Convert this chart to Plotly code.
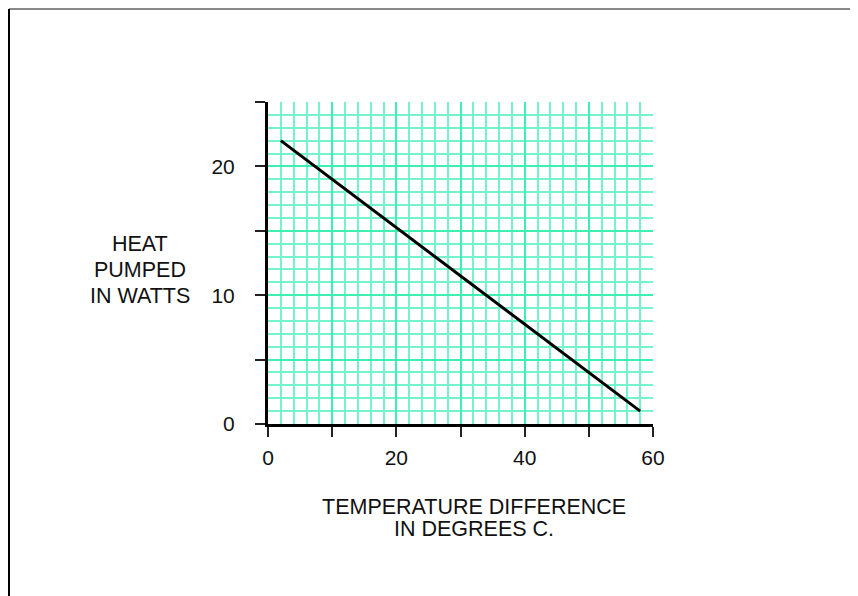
import plotly.graph_objects as go

temp_diff = [2, 58]
heat_watts = [22, 1]

x_tickvals = [0, 10, 20, 30, 40, 50, 60]
x_ticktext = ["0", "", "20", "", "40", "", "60"]
y_tickvals = [0, 5, 10, 15, 20, 25]
y_ticktext = ["0", "", "10", "", "20", ""]

y_title_lines = ["HEAT", "PUMPED", "IN WATTS"]
x_title_lines = ["TEMPERATURE DIFFERENCE", "IN DEGREES C."]

FONT = "Liberation Sans, Arial, sans-serif"
FS = 21.5
OFF = 8  # page body offset
W, H = 858, 596
L, R, T, B = 268 - OFF, 858 - 653 + OFF, 102 - OFF, 596 - 424 + OFF
pw, ph = W - L - R, H - T - B

def px(x):
    # page pixel -> paper fraction
    return (x - OFF - L) / pw

def py(y):
    return (H - B - (y - OFF)) / ph

fig = go.Figure()
fig.add_trace(go.Scatter(x=temp_diff, y=heat_watts, mode="lines",
                         line=dict(color="black", width=3), showlegend=False))

fig.update_xaxes(range=[0, 60], tickvals=x_tickvals, ticktext=x_ticktext,
                 showgrid=True, gridcolor="#3DEFB0", gridwidth=2,
                 minor=dict(dtick=2, showgrid=True, gridcolor="#74F3CC", gridwidth=1.5),
                 showline=True, linecolor="black", linewidth=3, mirror=False,
                 ticks="outside", ticklen=10, tickwidth=2, tickcolor="#222",
                 zeroline=False, ticklabelstandoff=3,
                 tickfont=dict(family=FONT, size=21, color="#111"))
fig.update_yaxes(range=[0, 25], tickvals=y_tickvals, ticktext=y_ticktext,
                 showgrid=True, gridcolor="#3DEFB0", gridwidth=2,
                 minor=dict(dtick=1, showgrid=True, gridcolor="#74F3CC", gridwidth=1.5),
                 showline=True, linecolor="black", linewidth=3, mirror=False,
                 ticks="outside", ticklen=10, tickwidth=2, tickcolor="#222",
                 zeroline=False, ticklabelstandoff=16,
                 tickfont=dict(family=FONT, size=21, color="#111"))

for txt, yc in zip(y_title_lines, [244, 270, 296]):
    fig.add_annotation(text=txt, xref="paper", yref="paper",
                       x=px(140), y=py(yc), xanchor="center", yanchor="middle",
                       showarrow=False, font=dict(family=FONT, size=FS, color="#111"))
for txt, yc in zip(x_title_lines, [507, 529]):
    fig.add_annotation(text=txt, xref="paper", yref="paper",
                       x=px(474), y=py(yc), xanchor="center", yanchor="middle",
                       showarrow=False, font=dict(family=FONT, size=FS, color="#111"))

# frame lines at the figure edge
fig.add_shape(type="line", xref="paper", yref="paper", x0=px(9), x1=px(870), y0=py(9), y1=py(9),
              line=dict(color="#888", width=2))
fig.add_shape(type="line", xref="paper", yref="paper", x0=px(9), x1=px(9), y0=py(9), y1=py(610),
              line=dict(color="black", width=2))

fig.update_layout(width=W, height=H, margin=dict(l=L, r=R, t=T, b=B, autoexpand=False),
                  plot_bgcolor="white", paper_bgcolor="white")

fig.write_html("out.html")
